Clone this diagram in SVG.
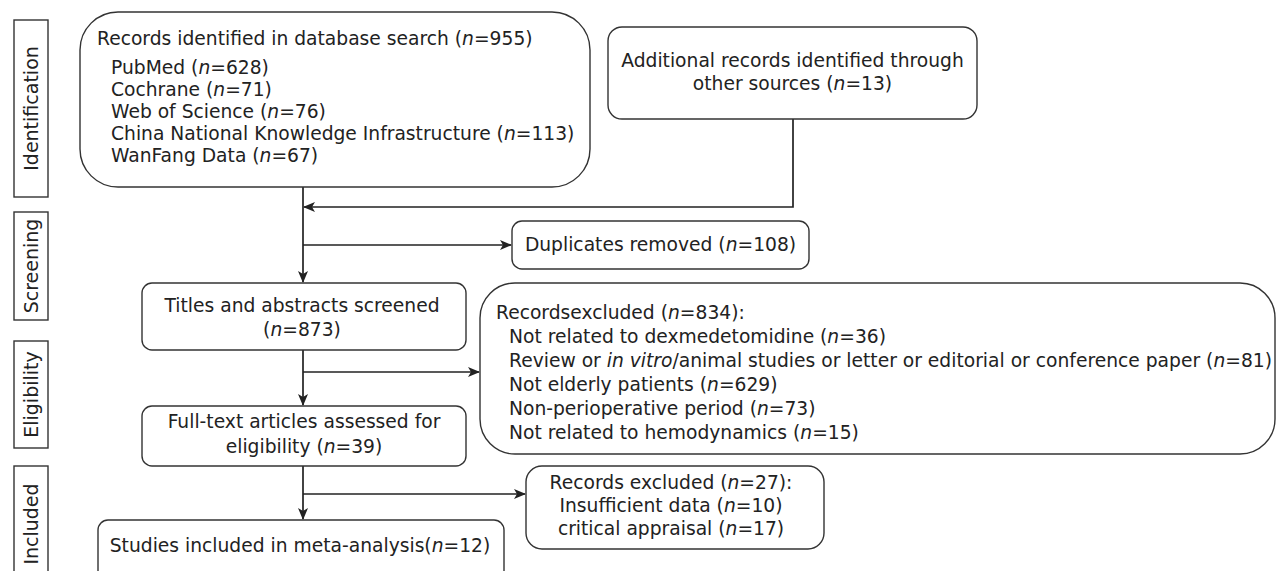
<svg xmlns="http://www.w3.org/2000/svg" width="1278" height="571" viewBox="0 0 1278 571">
<defs>
<style>
.bx{fill:#fff;stroke:#333;stroke-width:1.4}
.t{font-family:"DejaVu Sans","Verdana",sans-serif;font-size:18.7px;fill:#222}
.c{text-anchor:middle}
.i{font-style:italic}
.ln{fill:none;stroke:#222;stroke-width:1.7}
.side{font-family:"DejaVu Sans",sans-serif;font-size:19px;fill:#222;text-anchor:middle}
</style>
<marker id="ah" markerWidth="12" markerHeight="10" refX="11" refY="5" orient="auto" markerUnits="userSpaceOnUse">
<path d="M0,0 L12,5 L0,10 L3,5 Z" fill="#222"/>
</marker>
</defs>
<rect width="1278" height="571" fill="#fff"/>

<g id="stage-identification">
<rect class="bx" x="14" y="20" width="34" height="177"/>
<text class="side" transform="translate(38,108.5) rotate(-90)">Identification</text>
</g>
<g id="stage-screening">
<rect class="bx" x="14" y="212" width="34" height="108"/>
<text class="side" transform="translate(38,266) rotate(-90)">Screening</text>
</g>
<g id="stage-eligibility">
<rect class="bx" x="14" y="341" width="34" height="107"/>
<text class="side" transform="translate(38,394.5) rotate(-90)">Eligibility</text>
</g>
<g id="stage-included">
<rect class="bx" x="14" y="466" width="34" height="120"/>
<text class="side" transform="translate(38,524) rotate(-90)">Included</text>
</g>

<g id="connectors">
<line class="ln" x1="303" y1="187" x2="303" y2="282" marker-end="url(#ah)"/>
<polyline class="ln" points="793,119 793,207 304,207" marker-end="url(#ah)"/>
<line class="ln" x1="303" y1="245" x2="511" y2="245" marker-end="url(#ah)"/>
<line class="ln" x1="303" y1="350" x2="303" y2="405" marker-end="url(#ah)"/>
<line class="ln" x1="303" y1="372" x2="479" y2="372" marker-end="url(#ah)"/>
<line class="ln" x1="303" y1="466" x2="303" y2="519" marker-end="url(#ah)"/>
<line class="ln" x1="303" y1="494" x2="525" y2="494" marker-end="url(#ah)"/>
</g>

<g id="database-search">
<rect class="bx" x="80" y="12" width="510" height="175" rx="38"/>
<text class="t" x="97" y="45">Records identified in database search (<tspan class="i">n</tspan>=955)</text>
<text class="t" x="111" y="74">PubMed (<tspan class="i">n</tspan>=628)</text>
<text class="t" x="111" y="96">Cochrane (<tspan class="i">n</tspan>=71)</text>
<text class="t" x="111" y="118">Web of Science (<tspan class="i">n</tspan>=76)</text>
<text class="t" x="111" y="140">China National Knowledge Infrastructure (<tspan class="i">n</tspan>=113)</text>
<text class="t" x="111" y="162">WanFang Data (<tspan class="i">n</tspan>=67)</text>
</g>

<g id="other-sources">
<rect class="bx" x="608" y="27" width="369" height="92" rx="14"/>
<text class="t c" x="792.5" y="67">Additional records identified through</text>
<text class="t c" x="792.5" y="90">other sources (<tspan class="i">n</tspan>=13)</text>
</g>

<g id="duplicates">
<rect class="bx" x="512" y="221" width="297" height="48" rx="10"/>
<text class="t c" x="660.5" y="251">Duplicates removed (<tspan class="i">n</tspan>=108)</text>
</g>

<g id="titles-screened">
<rect class="bx" x="142" y="283" width="324" height="67" rx="10"/>
<text class="t c" x="302" y="312">Titles and abstracts screened</text>
<text class="t c" x="302" y="336">(<tspan class="i">n</tspan>=873)</text>
</g>

<g id="records-excluded-834">
<rect class="bx" x="480" y="283" width="795" height="171" rx="35"/>
<text class="t" x="496" y="319">Recordsexcluded (<tspan class="i">n</tspan>=834):</text>
<text class="t" x="509" y="343">Not related to dexmedetomidine (<tspan class="i">n</tspan>=36)</text>
<text class="t" x="509" y="367" textLength="763" lengthAdjust="spacingAndGlyphs">Review or <tspan class="i">in vitro</tspan>/animal studies or letter or editorial or conference paper (<tspan class="i">n</tspan>=81)</text>
<text class="t" x="509" y="391">Not elderly patients (<tspan class="i">n</tspan>=629)</text>
<text class="t" x="509" y="415">Non-perioperative period (<tspan class="i">n</tspan>=73)</text>
<text class="t" x="509" y="439">Not related to hemodynamics (<tspan class="i">n</tspan>=15)</text>
</g>

<g id="full-text">
<rect class="bx" x="142" y="406" width="324" height="60" rx="10"/>
<text class="t c" x="304" y="428">Full-text articles assessed for</text>
<text class="t c" x="304" y="453">eligibility (<tspan class="i">n</tspan>=39)</text>
</g>

<g id="records-excluded-27">
<rect class="bx" x="526" y="466" width="298" height="83" rx="16"/>
<text class="t c" x="671" y="489">Records excluded (<tspan class="i">n</tspan>=27):</text>
<text class="t c" x="671" y="512">Insufficient data (<tspan class="i">n</tspan>=10)</text>
<text class="t c" x="671" y="535">critical appraisal (<tspan class="i">n</tspan>=17)</text>
</g>

<g id="studies-included">
<rect class="bx" x="98" y="520" width="406" height="70" rx="10"/>
<text class="t c" x="300" y="552">Studies included in meta-analysis(<tspan class="i">n</tspan>=12)</text>
</g>
</svg>
